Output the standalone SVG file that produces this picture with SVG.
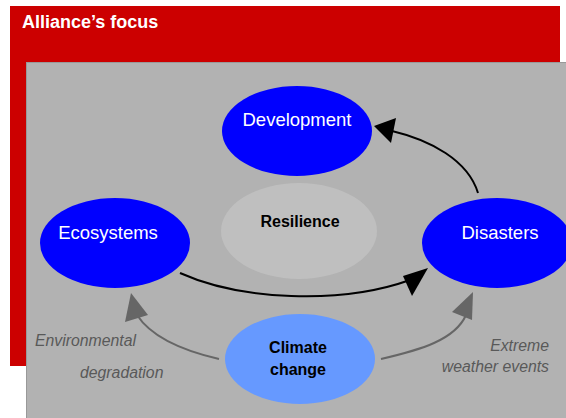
<svg xmlns="http://www.w3.org/2000/svg" width="566" height="418" viewBox="0 0 566 418">
<defs>
<style>
.node{fill:#0000ff}
.lbl{font-family:"Liberation Sans",Arial,sans-serif;font-size:18.5px;fill:#ffffff;text-anchor:middle}
.bold{font-family:"Liberation Sans",Arial,sans-serif;font-size:16px;font-weight:bold;fill:#000;text-anchor:middle}
.it{font-family:"Liberation Sans",Arial,sans-serif;font-size:15.8px;font-style:italic;fill:#595959}
.blk{fill:none;stroke:#000;stroke-width:2}
.gry{fill:none;stroke:#666;stroke-width:2}
</style>
</defs>
<rect x="10" y="6" width="550" height="360" fill="#cc0000"/>
<text x="22" y="28" font-family="Liberation Sans,Arial,sans-serif" font-size="18" font-weight="bold" fill="#fff">Alliance’s focus</text>
<rect x="26.5" y="62.5" width="545" height="360" fill="#b2b2b2" stroke="#999" stroke-width="1"/>
<g id="resilience"><ellipse cx="299" cy="231" rx="78" ry="48" fill="#bfbfbf"/><text class="bold" x="300" y="227">Resilience</text></g>
<g id="development"><ellipse class="node" cx="297" cy="131" rx="75" ry="45"/><text class="lbl" x="297" y="126">Development</text></g>
<g id="ecosystems"><ellipse class="node" cx="115" cy="243" rx="75" ry="45"/><text class="lbl" x="108" y="239">Ecosystems</text></g>
<g id="disasters"><ellipse class="node" cx="497" cy="243" rx="75" ry="45"/><text class="lbl" x="500" y="239">Disasters</text></g>
<g id="climate"><ellipse cx="300" cy="359" rx="75" ry="45" fill="#6699ff"/><text class="bold" x="298" y="353">Climate</text><text class="bold" x="298" y="375">change</text></g>
<g id="connectors">
<path class="blk" d="M478,193 C468,160 430,140 392,131"/>
<polygon points="374,126 396,118 391,143" fill="#000"/>
<path class="blk" d="M180,273 C240,300 340,305 410,280"/>
<polygon points="428,268 403,276 412,296" fill="#000"/>
<path class="gry" d="M219,359 C180,350 150,335 137,315"/>
<polygon points="131,293 125,322 148,315" fill="#666"/>
<path class="gry" d="M381,359 C420,350 455,340 466,315"/>
<polygon points="473,292 452,312 472,320" fill="#666"/>
</g>
<text class="it" x="35" y="346">Environmental</text>
<text class="it" x="80" y="378">degradation</text>
<text class="it" x="549" y="351" text-anchor="end">Extreme</text>
<text class="it" x="549" y="372" text-anchor="end">weather events</text>
</svg>
